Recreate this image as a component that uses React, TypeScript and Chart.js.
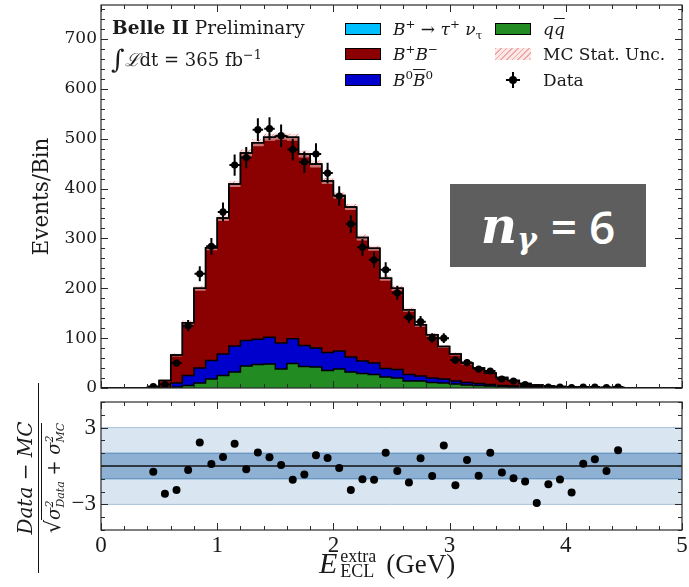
import React, { useEffect, useRef } from "react";
import { Chart, registerables } from "chart.js";
Chart.register(...registerables);

// ---------------- data ----------------
const binEdges = [
  0.0, 0.1, 0.2, 0.3, 0.4, 0.5, 0.6, 0.7, 0.8, 0.9,
  1.0, 1.1, 1.2, 1.3, 1.4, 1.5, 1.6, 1.7, 1.8, 1.9,
  2.0, 2.1, 2.2, 2.3, 2.4, 2.5, 2.6, 2.7, 2.8, 2.9,
  3.0, 3.1, 3.2, 3.3, 3.4, 3.5, 3.6, 3.7, 3.8, 3.9,
  4.0, 4.1, 4.2, 4.3, 4.4, 4.5, 4.6, 4.7, 4.8, 4.9, 5.0,
];
const qqVals = [
  0, 0, 0, 0, 0, 0, 2, 5, 10, 18,
  25, 32, 44, 47, 48, 38, 49, 43, 42, 35,
  38, 32, 29, 27, 22, 20, 14, 14, 11, 10,
  8, 6, 5, 4, 3, 2, 2, 1, 1, 1,
  0, 0, 0, 0, 0, 0, 0, 0, 0, 0,
];
const b0b0Vals = [
  0, 0, 0, 0, 0, 1, 8, 20, 30, 37,
  43, 52, 51, 51, 54, 52, 50, 42, 38, 36,
  36, 30, 25, 23, 17, 17, 13, 10, 9, 8,
  6, 5, 4, 3, 2, 2, 1, 1, 0, 0,
  0, 0, 0, 0, 0, 0, 0, 0, 0, 0,
];
const bpbmVals = [
  0, 0, 0, 0, 2, 14, 56, 106, 160, 226,
  273, 325, 376, 394, 401, 415, 404, 384, 369, 344,
  312, 301, 248, 230, 181, 163, 130, 103, 87, 65,
  54, 39, 31, 23, 16, 11, 6, 4, 3, 2,
  2, 2, 1, 1, 1, 0, 0, 0, 0, 0,
];
const sigVals = [
  0, 0, 0, 0, 0, 0, 0, 0, 0, 0,
  0, 0, 0, 0, 0, 0, 0, 0, 0, 0,
  0, 0, 0, 0, 0, 0, 0, 0, 0, 0,
  0, 0, 0, 0, 0, 0, 0, 0, 0, 0,
  0, 0, 0, 0, 0, 0, 0, 0, 0, 0,
];
const mcUncVals = [
  0, 0, 0, 0, 1, 2, 3, 4, 5, 5,
  6, 6, 7, 7, 7, 7, 7, 7, 7, 6,
  6, 6, 6, 5, 5, 5, 4, 4, 4, 3,
  3, 3, 2, 2, 2, 2, 1, 1, 1, 1,
  1, 1, 1, 1, 1, 0, 0, 0, 0, 0,
];
const dataCenters = [
  0.45, 0.55, 0.65, 0.75, 0.85, 0.95, 1.05, 1.15, 1.25, 1.35,
  1.45, 1.55, 1.65, 1.75, 1.85, 1.95, 2.05, 2.15, 2.25, 2.35,
  2.45, 2.55, 2.65, 2.75, 2.85, 2.95, 3.05, 3.15, 3.25, 3.35,
  3.45, 3.55, 3.65, 3.75, 3.85, 3.95, 4.05, 4.15, 4.25, 4.35, 4.45,
];
const dataVals = [
  3, 7, 50, 125, 229, 284, 353, 447, 462, 518,
  520, 506, 478, 453, 469, 431, 385, 329, 282, 257,
  237, 191, 142, 133, 100, 100, 56, 51, 38, 34,
  18, 14, 7, 1, 2, 2, 1, 2, 2, 1, 2,
];
const pullVals = [
  -0.45, -2.16, -1.87, -0.32, 1.84, 0.16, 0.71, 1.74, -0.26, 1.05,
  0.68, 0.08, -1.08, -0.66, 0.84, 0.63, -0.16, -1.87, -1.03, -1.08,
  1.03, -0.39, -1.29, 0.6, -0.79, 1.6, -1.5, 0.47, -0.76, 1.03,
  -0.5, -0.95, -1.21, -2.89, -1.42, -1.05, -2.08, 0.18, 0.53, -0.39, 1.24,
];
const xTickVals = [0, 1, 2, 3, 4, 5];
const yTickValsTop = [0, 100, 200, 300, 400, 500, 600, 700];
const yTickValsPull = [-3, 3];
const pullBands = [1, 3];

const X_MIN = 0;
const X_MAX = 5;
const Y_MAX_TOP = 768;
const PULL_LIM = 5;

const COLORS = {
  sig: "#00BFFF",
  bpbm: "#8B0000",
  b0b0: "#0000CD",
  qq: "#228B22",
  text: "#1a1a1a",
  frame: "#2a2a2a",
  bandOuter: "#d9e5f0",
  bandInner: "#8eb0d2",
  bandOuterLine: "#a9c3dc",
  bandInnerLine: "#4f86ba",
};
const SERIF = "'DejaVu Serif', serif";
const LSERIF = "'Liberation Serif', serif";

// ---------------- helpers ----------------
function stepPoints(vals: number[]) {
  const pts = vals.map((v, i) => ({ x: binEdges[i], y: v }));
  pts.push({ x: binEdges[vals.length], y: vals[vals.length - 1] });
  return pts;
}
function addArr(a: number[], b: number[]) {
  return a.map((v, i) => v + b[i]);
}
function makeHatch(): CanvasPattern | string {
  const c = document.createElement("canvas");
  c.width = 8;
  c.height = 8;
  const g = c.getContext("2d");
  if (!g) return "rgba(240,150,150,0.4)";
  g.fillStyle = "rgba(250,205,205,0.55)";
  g.fillRect(0, 0, 8, 8);
  g.strokeStyle = "rgba(225,110,110,0.75)";
  g.lineWidth = 1;
  g.beginPath();
  g.moveTo(0, 8);
  g.lineTo(8, 0);
  g.moveTo(-2, 2);
  g.lineTo(2, -2);
  g.moveTo(6, 10);
  g.lineTo(10, 6);
  g.stroke();
  return g.createPattern(c, "repeat") || "rgba(240,150,150,0.4)";
}

const frameTicks = {
  id: "frameTicks",
  afterDraw(chart: any, _args: any, opts: any) {
    const { ctx, chartArea: a, scales } = chart;
    const xs = scales.x;
    const ys = scales.y;
    ctx.save();
    ctx.strokeStyle = COLORS.frame;
    ctx.lineWidth = 1;
    const seg = (x1: number, y1: number, x2: number, y2: number) => {
      ctx.beginPath();
      ctx.moveTo(x1, y1);
      ctx.lineTo(x2, y2);
      ctx.stroke();
    };
    const majL = 7;
    const minL = 4;
    for (let v = opts.xMin; v <= opts.xMax + 1e-9; v += opts.xMinorStep) {
      const isMaj = opts.xMajor.some((m: number) => Math.abs(m - v) < 1e-6);
      const px = Math.round(xs.getPixelForValue(v)) + 0.5;
      const L = isMaj ? majL : minL;
      seg(px, a.bottom, px, a.bottom - L);
      seg(px, a.top, px, a.top + L);
    }
    for (let v = opts.yMin; v <= opts.yMax + 1e-9; v += opts.yMinorStep) {
      const isMaj = opts.yMajor.some((m: number) => Math.abs(m - v) < 1e-6);
      const py = Math.round(ys.getPixelForValue(v)) + 0.5;
      const L = isMaj ? majL : minL;
      seg(a.left, py, a.left + L, py);
      seg(a.right, py, a.right - L, py);
    }
    ctx.lineWidth = 1.2;
    ctx.strokeRect(a.left, a.top, a.right - a.left, a.bottom - a.top);
    ctx.restore();
  },
};

const errorBars = {
  id: "errorBars",
  afterDatasetsDraw(chart: any) {
    const { ctx, scales, chartArea: a } = chart;
    const xs = scales.x;
    const ys = scales.y;
    ctx.save();
    ctx.beginPath();
    ctx.rect(a.left, a.top, a.right - a.left, a.bottom - a.top);
    ctx.clip();
    ctx.strokeStyle = "#000";
    ctx.lineWidth = 2;
    dataCenters.forEach((c, i) => {
      const v = dataVals[i];
      const e = Math.sqrt(v);
      const px = xs.getPixelForValue(c);
      const py = ys.getPixelForValue(v);
      ctx.beginPath();
      ctx.moveTo(px, ys.getPixelForValue(v - e));
      ctx.lineTo(px, ys.getPixelForValue(v + e));
      ctx.moveTo(xs.getPixelForValue(c - 0.045), py);
      ctx.lineTo(xs.getPixelForValue(c + 0.045), py);
      ctx.stroke();
    });
    ctx.restore();
  },
};

const W = 689;
const TOP_H = 395;
const BOT_H = 192;
const AXIS_W = 101;
const PAD_R = 7;

export default function App() {
  const topRef = useRef<HTMLCanvasElement | null>(null);
  const botRef = useRef<HTMLCanvasElement | null>(null);

  useEffect(() => {
    if (!topRef.current || !botRef.current) return;
    Chart.defaults.font.family = SERIF;
    Chart.defaults.color = COLORS.text;

    const cumQ = qqVals.slice();
    const cumB = addArr(cumQ, b0b0Vals);
    const cumR = addArr(cumB, bpbmVals);
    const cumS = addArr(cumR, sigVals);
    const uncLo = cumS.map((v, i) => Math.max(0, v - mcUncVals[i]));
    const uncHi = cumS.map((v, i) => v + mcUncVals[i]);
    const hatch = makeHatch();

    const stepDs = (label: string, vals: number[], color: string, fill: any, order: number) => ({
      label,
      data: stepPoints(vals),
      stepped: "before" as const,
      borderColor: "#000",
      borderWidth: 1.5,
      backgroundColor: color,
      fill,
      pointRadius: 0,
      order,
    });

    const top = new Chart(topRef.current, {
      type: "line",
      data: {
        datasets: [
          stepDs("qq", cumQ, COLORS.qq, "origin", 7),
          stepDs("B0B0", cumB, COLORS.b0b0, "-1", 6),
          stepDs("B+B-", cumR, COLORS.bpbm, "-1", 5),
          stepDs("sig", cumS, COLORS.sig, "-1", 4),
          {
            label: "uncLo",
            data: stepPoints(uncLo),
            stepped: "before",
            borderColor: "transparent",
            borderWidth: 0,
            fill: false,
            pointRadius: 0,
            order: 3,
          },
          {
            label: "uncHi",
            data: stepPoints(uncHi),
            stepped: "before",
            borderColor: "transparent",
            borderWidth: 0,
            backgroundColor: hatch as any,
            fill: "-1",
            pointRadius: 0,
            order: 2,
          },
          {
            label: "Data",
            data: dataCenters.map((x, i) => ({ x, y: dataVals[i] })),
            showLine: false,
            pointRadius: 3.6,
            pointBackgroundColor: "#000",
            pointBorderColor: "#000",
            pointBorderWidth: 0,
            order: 1,
          },
        ] as any,
      },
      options: {
        responsive: false,
        animation: false,
        devicePixelRatio: 1,
        events: [],
        layout: { padding: { left: 0, right: PAD_R, top: 5, bottom: 0 } },
        scales: {
          x: {
            type: "linear",
            min: X_MIN,
            max: X_MAX,
            ticks: { display: false },
            grid: { display: false, drawTicks: false },
            border: { display: false },
            afterFit: (s: any) => {
              s.height = 7;
              s.paddingLeft = 0;
              s.paddingRight = 0;
            },
          },
          y: {
            type: "linear",
            min: 0,
            max: Y_MAX_TOP,
            grid: { display: false, drawTicks: false },
            border: { display: false },
            ticks: { font: { size: 17, family: SERIF }, color: COLORS.text, padding: 4 },
            afterBuildTicks: (s: any) => {
              s.ticks = yTickValsTop.map((v) => ({ value: v }));
            },
            title: {
              display: true,
              text: "Events/Bin",
              font: { size: 21.5, family: SERIF },
              color: COLORS.text,
              padding: { top: 30, bottom: 0 },
            },
            afterFit: (s: any) => {
              s.width = AXIS_W;
              s.paddingTop = 0;
              s.paddingBottom = 0;
            },
          },
        },
        plugins: {
          legend: { display: false },
          tooltip: { enabled: false },
          filler: { drawTime: "beforeDatasetsDraw" },
          frameTicks: {
            xMin: X_MIN,
            xMax: X_MAX,
            xMajor: xTickVals,
            xMinorStep: 0.2,
            yMin: 0,
            yMax: 760,
            yMajor: yTickValsTop,
            yMinorStep: 20,
          },
        } as any,
      },
      plugins: [frameTicks, errorBars],
    });

    const flat = (v: number) => [
      { x: X_MIN, y: v },
      { x: X_MAX, y: v },
    ];
    const bot = new Chart(botRef.current, {
      type: "line",
      data: {
        datasets: [
          { label: "o-lo", data: flat(-pullBands[1]), borderColor: COLORS.bandOuterLine, borderWidth: 1, fill: false, pointRadius: 0, order: 6 },
          { label: "o-hi", data: flat(pullBands[1]), borderColor: COLORS.bandOuterLine, borderWidth: 1, backgroundColor: COLORS.bandOuter, fill: "-1", pointRadius: 0, order: 5 },
          { label: "i-lo", data: flat(-pullBands[0]), borderColor: COLORS.bandInnerLine, borderWidth: 1, fill: false, pointRadius: 0, order: 4 },
          { label: "i-hi", data: flat(pullBands[0]), borderColor: COLORS.bandInnerLine, borderWidth: 1, backgroundColor: COLORS.bandInner, fill: "-1", pointRadius: 0, order: 3 },
          { label: "zero", data: flat(0), borderColor: "#111", borderWidth: 1.6, fill: false, pointRadius: 0, order: 2 },
          {
            label: "pull",
            data: dataCenters.map((x, i) => ({ x, y: pullVals[i] })),
            showLine: false,
            pointRadius: 4,
            pointBackgroundColor: "#000",
            pointBorderColor: "#000",
            pointBorderWidth: 0,
            order: 1,
          },
        ] as any,
      },
      options: {
        responsive: false,
        animation: false,
        devicePixelRatio: 1,
        events: [],
        layout: { padding: { left: 0, right: PAD_R, top: 7, bottom: 0 } },
        scales: {
          x: {
            type: "linear",
            min: X_MIN,
            max: X_MAX,
            grid: { display: false, drawTicks: false },
            border: { display: false },
            ticks: { font: { size: 23, family: LSERIF }, color: COLORS.text, padding: 2, maxRotation: 0 },
            afterBuildTicks: (s: any) => {
              s.ticks = xTickVals.map((v) => ({ value: v }));
            },
            afterFit: (s: any) => {
              s.height = 57;
              s.paddingLeft = 0;
              s.paddingRight = 0;
            },
          },
          y: {
            type: "linear",
            min: -PULL_LIM,
            max: PULL_LIM,
            grid: { display: false, drawTicks: false },
            border: { display: false },
            ticks: {
              font: { size: 23, family: LSERIF },
              color: COLORS.text,
              padding: 5,
              callback: (v: any) => (Number(v) < 0 ? "\u2212" + Math.abs(Number(v)) : String(v)),
            },
            afterBuildTicks: (s: any) => {
              s.ticks = yTickValsPull.map((v) => ({ value: v }));
            },
            afterFit: (s: any) => {
              s.width = AXIS_W;
              s.paddingTop = 0;
              s.paddingBottom = 0;
            },
          },
        },
        plugins: {
          legend: { display: false },
          tooltip: { enabled: false },
          filler: { drawTime: "beforeDatasetsDraw" },
          frameTicks: {
            xMin: X_MIN,
            xMax: X_MAX,
            xMajor: xTickVals,
            xMinorStep: 0.2,
            yMin: -PULL_LIM,
            yMax: PULL_LIM,
            yMajor: yTickValsPull,
            yMinorStep: 1,
          },
        } as any,
      },
      plugins: [frameTicks],
    });

    return () => {
      top.destroy();
      bot.destroy();
    };
  }, []);

  const txt: React.CSSProperties = { position: "absolute", fontFamily: SERIF, color: COLORS.text, whiteSpace: "nowrap" };
  const sup: React.CSSProperties = { fontSize: "0.7em", position: "relative", top: "-0.55em" };
  const sub: React.CSSProperties = { fontSize: "0.7em", position: "relative", top: "0.3em" };
  const sw = (left: number, cy: number, bg: string): React.CSSProperties => ({
    position: "absolute",
    left,
    top: cy - 6,
    width: 36,
    height: 12,
    background: bg,
    border: "1px solid #000",
    boxSizing: "border-box",
  });
  const rowY = [29, 54, 80];
  const labelStyle = (left: number, cy: number): React.CSSProperties => ({
    ...txt,
    left,
    top: cy - 12,
    fontSize: 17,
    lineHeight: "24px",
  });
  const stack = (a: string, b: string, fs: number, lh: number, va: string, ml = 0) => (
    <span style={{ display: "inline-block", verticalAlign: va, fontSize: fs, lineHeight: `${lh}px`, textAlign: "left", marginLeft: ml }}>
      <span style={{ display: "block" }}>{a}</span>
      <span style={{ display: "block" }}>{b}</span>
    </span>
  );

  return (
    <div style={{ position: "fixed", left: 0, top: 0, width: W, height: TOP_H + BOT_H, background: "#fff", overflow: "hidden" }}>
      <canvas ref={topRef} width={W} height={TOP_H} style={{ position: "absolute", left: 0, top: 0, width: W, height: TOP_H }} />
      <canvas ref={botRef} width={W} height={BOT_H} style={{ position: "absolute", left: 0, top: TOP_H, width: W, height: BOT_H }} />

      {/* Belle II label */}
      <div style={{ ...txt, left: 112, top: 16, fontSize: 18.5, lineHeight: "24px" }}>
        <b>Belle II</b> Preliminary
      </div>
      <div style={{ ...txt, left: 111, top: 43, fontSize: 18, lineHeight: "28px" }}>
        <span style={{ fontSize: 26, position: "relative", top: 2 }}>∫</span>
        <span style={{ fontStyle: "italic" }}>ℒ</span>dt = 365 fb<span style={sup}>−1</span>
      </div>

      {/* Legend */}
      <div style={sw(345, rowY[0], COLORS.sig)} />
      <div style={labelStyle(393, rowY[0])}>
        <i>B</i>
        <span style={sup}>+</span> → <i>τ</i>
        <span style={sup}>+</span> <i>ν</i>
        <span style={sub}>τ</span>
      </div>
      <div style={sw(345, rowY[1], COLORS.bpbm)} />
      <div style={labelStyle(393, rowY[1])}>
        <i>B</i>
        <span style={sup}>+</span>
        <i>B</i>
        <span style={sup}>−</span>
      </div>
      <div style={sw(345, rowY[2], COLORS.b0b0)} />
      <div style={labelStyle(393, rowY[2])}>
        <i>B</i>
        <span style={sup}>0</span>
        <span style={{ textDecoration: "overline" }}>
          <i>B</i>
        </span>
        <span style={sup}>0</span>
      </div>
      <div style={sw(495, rowY[0], COLORS.qq)} />
      <div style={labelStyle(543, rowY[0])}>
        <i>q</i>
        <span style={{ textDecoration: "overline" }}>
          <i>q</i>
        </span>
      </div>
      <div
        style={{
          ...sw(495, rowY[1], "repeating-linear-gradient(135deg, rgba(230,130,130,0.7) 0 1px, rgba(250,215,215,0.6) 1px 4px)"),
          border: "none",
        }}
      />
      <div style={labelStyle(543, rowY[1])}>MC Stat. Unc.</div>
      <div style={{ position: "absolute", left: 512, top: rowY[2] - 8, width: 2, height: 16, background: "#000" }} />
      <div style={{ position: "absolute", left: 506, top: rowY[2] - 1, width: 14, height: 2, background: "#000" }} />
      <div style={{ position: "absolute", left: 509, top: rowY[2] - 4, width: 8, height: 8, borderRadius: 4, background: "#000" }} />
      <div style={labelStyle(543, rowY[2])}>Data</div>

      {/* n_gamma box */}
      <div
        style={{
          position: "absolute",
          left: 450,
          top: 184,
          width: 196,
          height: 83,
          background: "#5e5e5e",
          color: "#fff",
          display: "flex",
          alignItems: "center",
          justifyContent: "center",
          whiteSpace: "nowrap",
        }}
      >
        <span style={{ fontFamily: SERIF, fontStyle: "italic", fontWeight: 700, fontSize: 50, lineHeight: 1 }}>n</span>
        <span style={{ fontFamily: SERIF, fontStyle: "italic", fontWeight: 700, fontSize: 30, lineHeight: 1, position: "relative", top: 13 }}>γ</span>
        <span style={{ fontFamily: "'Open Sans', sans-serif", fontWeight: 600, fontSize: 46, lineHeight: 1, marginLeft: 14 }}>= 6</span>
      </div>

      {/* x axis title */}
      <div style={{ ...txt, left: 319, top: 547, fontSize: 27, lineHeight: "32px", fontFamily: LSERIF }}>
        <i style={{ fontSize: 30 }}>E</i>
        {stack("extra", "ECL", 18, 15, "-4px", 3)}
        <span style={{ marginLeft: 10 }}>(GeV)</span>
      </div>

      {/* pull y label */}
      <div
        style={{
          position: "absolute",
          left: 40 - 95,
          top: 478 - 26,
          width: 190,
          height: 52,
          transform: "rotate(-90deg)",
          transformOrigin: "50% 50%",
          fontFamily: SERIF,
          color: COLORS.text,
          textAlign: "center",
          whiteSpace: "nowrap",
        }}
      >
        <div style={{ fontStyle: "italic", fontSize: 20, lineHeight: "23px", borderBottom: "1.5px solid #111", paddingBottom: 1 }}>Data − MC</div>
        <div style={{ lineHeight: "28px", fontSize: 18 }}>
          <span style={{ fontSize: 21 }}>√</span>
          <span style={{ borderTop: "1px solid #111", fontStyle: "italic", paddingTop: 1 }}>
            σ{stack("2", "Data", 11, 11, "middle")} + σ{stack("2", "MC", 11, 11, "middle")}
          </span>
        </div>
      </div>
    </div>
  );
}
